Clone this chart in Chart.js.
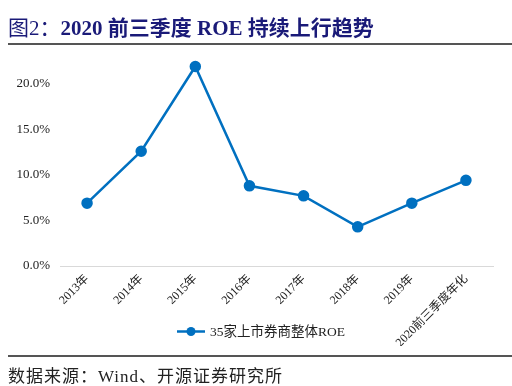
<!DOCTYPE html>
<html><head><meta charset="utf-8">
<script src="https://cdn.jsdelivr.net/npm/chart.js@4/dist/chart.umd.min.js"></script>
<style>
html,body{margin:0;padding:0;background:#fff;}
#wrap{position:relative;width:512px;height:386px;overflow:hidden;}
#title{position:absolute;left:8px;top:11px;font:bold 21px "Liberation Serif","Noto Sans CJK SC",serif;color:#1a1a78;white-space:nowrap;}
#title .n{font-weight:normal;}
#l1{position:absolute;left:8px;top:43px;width:504px;height:1.5px;background:#555;}
#l2{position:absolute;left:8px;top:355px;width:504px;height:1.5px;background:#555;}
#src{position:absolute;left:8px;top:362px;font:17px "Liberation Serif","Noto Sans CJK SC",serif;letter-spacing:1px;color:#222;white-space:nowrap;}
canvas{position:absolute;left:0;top:0;}
</style></head><body>
<div id="wrap">
<canvas id="c" width="512" height="386"></canvas>
<div id="title"><span class="n">图2：</span>2020 前三季度 ROE 持续上行趋势</div>
<div id="l1"></div>
<div id="l2"></div>
<div id="src">数据来源：Wind、开源证券研究所</div>
</div>
<script>
const categories = ["2013年","2014年","2015年","2016年","2017年","2018年","2019年","2020前三季度年化"];
const roeValues = [6.9, 12.6, 21.9, 8.8, 7.7, 4.3, 6.9, 9.4];
const seriesName = "35家上市券商整体ROE";
const yTicks = [0, 5, 10, 15, 20];

const BLUE = "#0070C0";
const FONT = '"Liberation Serif","Noto Sans CJK SC",serif';

const legendPlugin = {
  id: 'lineLegend',
  afterDraw(chart) {
    const ctx = chart.ctx;
    const ds = chart.data.datasets[0];
    const y = 331.5, x0 = 177;
    ctx.save();
    ctx.strokeStyle = ds.borderColor;
    ctx.lineWidth = ds.borderWidth;
    ctx.beginPath(); ctx.moveTo(x0, y); ctx.lineTo(x0 + 28, y); ctx.stroke();
    ctx.fillStyle = ds.pointBackgroundColor;
    ctx.beginPath(); ctx.arc(x0 + 14, y, ds.pointRadius, 0, Math.PI * 2); ctx.fill();
    ctx.fillStyle = '#222';
    ctx.font = '13.5px ' + FONT;
    ctx.textBaseline = 'middle';
    ctx.textAlign = 'left';
    ctx.fillText(ds.label, x0 + 33, y + 1);
    ctx.restore();
  }
};

new Chart(document.getElementById('c'), {
  type: 'line',
  data: {
    labels: categories,
    datasets: [{
      label: seriesName,
      data: roeValues,
      borderColor: BLUE,
      backgroundColor: BLUE,
      pointBackgroundColor: BLUE,
      pointBorderColor: BLUE,
      borderWidth: 2.5,
      pointRadius: 4.5,
      tension: 0,
      clip: false
    }]
  },
  options: {
    responsive: false,
    animation: false,
    events: [],
    layout: { padding: { top: 61, left: 0, right: 19, bottom: 40 } },
    plugins: { legend: { display: false }, tooltip: { enabled: false } },
    scales: {
      x: {
        offset: true,
        grid: { display: false, drawTicks: false },
        border: { display: true, color: '#d9d9d9', width: 1 },
        ticks: { minRotation: 45, maxRotation: 45, autoSkip: false, padding: 6, color: '#222', font: { size: 12, family: FONT } },
        afterFit(s) { s.height = 80; }
      },
      y: {
        min: 0, max: 22.5,
        grid: { display: false, drawTicks: false },
        border: { display: false },
        afterBuildTicks(s) { s.ticks = yTicks.map(v => ({ value: v })); },
        ticks: { padding: 10, color: '#222', font: { size: 13, family: FONT }, callback: v => v.toFixed(1) + '%' },
        afterFit(s) { s.width = 60; }
      }
    }
  },
  plugins: [legendPlugin]
});
</script>
</body></html>
